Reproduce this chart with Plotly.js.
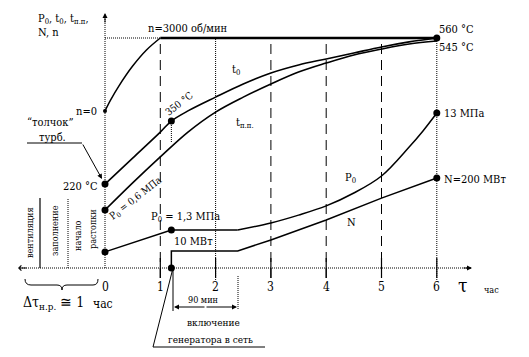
<!DOCTYPE html>
<html><head><meta charset="utf-8">
<script src="https://cdn.plot.ly/plotly-3.0.1.min.js"></script>
<style>html,body{margin:0;padding:0;background:#fff}#chart{width:529px;height:357px}
#chart svg text{font-family:"DejaVu Serif Condensed","DejaVu Serif",serif !important}</style>
</head><body><div id="chart"></div>
<script>
// ---- data (time in hours; values in relative units, 100 = nominal n line) ----
const tickTau = [0, 1, 2, 3, 4, 5, 6];
const tickLabels = ['0', '1', '2', '3', '4', '5', '6'];
const dashTau = [1, 3, 4, 5];
const dotTau = [2, 6];

const nTau = [0, 0.1, 0.25, 0.5, 0.75, 1.0];
const nVal = [68.3, 73.0, 79.1, 87.8, 94.8, 100];
const nFullTau = [1.0, 6];
const nFullVal = [100, 100];

const t0Tau = [0, 0.5, 1.0, 1.2, 1.5, 2, 2.5, 3, 3.5, 4, 4.5, 5, 5.5, 6];
const t0Val = [36.5, 47.8, 59.1, 63.9, 68.3, 74.3, 80.0, 84.8, 88.3, 90.9, 93.5, 96.1, 98.3, 100];

const tppTau = [0, 0.5, 1, 1.5, 2, 2.5, 3, 3.5, 4, 4.5, 5, 5.5, 6];
const tppVal = [25.2, 37.0, 48.3, 59.1, 67.8, 74.3, 80.0, 85.2, 89.1, 92.6, 95.2, 97.4, 98.7];

const p0StartTau = [0, 1.2, 2.4];
const p0StartVal = [7.0, 16.5, 16.5];
const p0RiseTau = [2.4, 3, 3.5, 4, 4.5, 5, 5.5, 5.75, 6];
const p0RiseVal = [16.5, 19.6, 23.0, 27.0, 32.6, 40.0, 52.6, 59.6, 67.4];

const powTau = [1.2, 1.2, 2.4, 3, 4, 5, 6];
const powVal = [0, 7.4, 7.4, 12.2, 20.9, 30.4, 39.1];

const syncTau = 1.2;

// ---- pixel helpers for layout (labels / decorations) ----
const X = px => (px - 105) / 55.3;
const Y = py => (268 - py) / 2.3;
const FONT = 'DejaVu Serif Condensed, DejaVu Serif';

const traces = [];
const blk = '#000';
function line(x, y, w, dash, shape) {
  traces.push({x, y, mode: 'lines', type: 'scatter', hoverinfo: 'skip',
    line: {color: blk, width: w, dash: dash || 'solid', shape: shape || 'linear', smoothing: 1}});
}
// vertical guides
dashTau.forEach(t => line([t, t], [Y(278), nFullVal[0]], 1, '10px,6px'));
dotTau.forEach(t => line([t, t], [Y(280), nFullVal[0]], 1, '1px,1px'));
line([syncTau, syncTau], [Y(123), Y(142)], 1, '1px,1px');
// axes
line([X(20), X(471)], [0, 0], 1, '1px,1px');
line([0, 0], [0, Y(16)], 1, '1px,1px');
line([X(40), X(40)], [0, Y(198)], 1.2);
line([X(68), X(68)], [0, Y(198)], 1, '1px,1px');
// ticks
tickTau.forEach(t => { if (t > 0) line([t, t], [Y(258), Y(278)], 1.2); });
// curves
line(nTau, nVal, 1.5, 'solid', 'spline');
line([0, nFullTau[0]], [nFullVal[0], nFullVal[0]], 1, '1px,1px');
line(nFullTau, nFullVal, 2.6);
line(t0Tau, t0Val, 1.6, 'solid', 'spline');
line(tppTau, tppVal, 1.6, 'solid', 'spline');
line(p0StartTau, p0StartVal, 1.5);
line(p0RiseTau, p0RiseVal, 1.5, 'solid', 'spline');
line(powTau, powVal, 1.5);
// dots
traces.push({type: 'scatter', mode: 'markers', hoverinfo: 'skip',
  x: [0, 0, 0, 1.2, 1.2, syncTau, 6, 6, 6],
  y: [t0Val[0], tppVal[0], p0StartVal[0], t0Val[3], p0StartVal[1], powVal[0], t0Val[t0Val.length - 1], p0RiseVal[p0RiseVal.length - 1], powVal[powVal.length - 1]],
  marker: {color: blk, size: 7}});
traces.push({type: 'scatter', mode: 'markers', hoverinfo: 'skip', x: [0], y: [nVal[0]],
  marker: {color: blk, size: 4}});

// ---- annotations ----
const sz = s => ({family: FONT, size: s, color: blk});
function A(text, px, py, o) {
  o = o || {};
  return Object.assign({text, x: X(px), y: Y(py), xref: 'x', yref: 'y', showarrow: false,
    xanchor: 'center', yanchor: 'middle', font: sz(11)}, o);
}
const ann = [
  A('P<sub>0</sub>, t<sub>0</sub>, t<sub>п.п</sub>,', 36, 19, {xanchor: 'left'}),
  A('N, n', 36, 32, {xanchor: 'left'}),
  A('n=0', 99, 111, {xanchor: 'right'}),
  A('n=3000 об/мин', 146, 28, {xanchor: 'left'}),
  A('“толчок”', 50, 122),
  A('турб.', 52, 137),
  A('220 °C', 100, 186, {xanchor: 'right'}),
  A('P<sub>0</sub> = 0,6 МПа', 136, 198, {textangle: -38, font: sz(10)}),
  A('350 °C', 179, 103, {textangle: -38, font: sz(10)}),
  A('t<sub>0</sub>', 236, 70),
  A('t<sub>п.п.</sub>', 245, 123),
  A('560 °C', 437, 29, {xanchor: 'left'}),
  A('545 °C', 437, 47, {xanchor: 'left'}),
  A('13 МПа', 442, 113, {xanchor: 'left'}),
  A('N=200 МВт', 442, 179, {xanchor: 'left'}),
  A('P<sub>0</sub>', 350, 178),
  A('N', 351, 222),
  A('P<sub>0</sub> = 1,3 МПа', 149, 217, {xanchor: 'left'}),
  A('10 МВт', 172, 241, {xanchor: 'left'}),
  A('90 мин', 203, 300, {font: sz(9)}),
  A('включение', 213, 322, {font: sz(10)}),
  A('генератора в сеть', 210, 339, {font: sz(10)}),
  A('τ', 462, 285, {font: sz(19)}),
  A('час', 482, 290, {xanchor: 'left', font: sz(9)}),
  A('Δτ<sub>н.р.</sub> ≅ 1', 21, 303, {xanchor: 'left', font: sz(14)}),
  A('час', 91, 304, {xanchor: 'left', font: sz(12)}),
  A('вентиляция', 30, 233, {textangle: -90, font: sz(9)}),
  A('заполнение', 55, 231, {textangle: -90, font: sz(9)}),
  A('начало', 78, 236, {textangle: -90, font: sz(9)}),
  A('растопки', 93, 229, {textangle: -90, font: sz(9)})
];
tickTau.forEach((t, i) => ann.push({text: tickLabels[i], x: t, y: Y(287), xref: 'x', yref: 'y',
  showarrow: false, font: sz(12)}));
// arrows
function arrow(hx, hy, tx, ty, head) {
  ann.push({text: '', x: X(hx), y: Y(hy), xref: 'x', yref: 'y', ax: tx - hx, ay: ty - hy,
    showarrow: true, arrowhead: head, arrowsize: 1, arrowwidth: 1, arrowcolor: blk});
}
arrow(472, 268, 462, 268, 2);
arrow(105, 13, 105, 24, 2);
arrow(18, 268, 28, 268, 4);
arrow(102, 179, 82, 143, 2);
arrow(174, 307, 206, 307, 2);
arrow(237, 307, 205, 307, 2);

// shapes (leaders, brace)
function seg(x0, y0, x1, y1, dash) {
  return {type: 'line', xref: 'x', yref: 'y', x0: X(x0), y0: Y(y0), x1: X(x1), y1: Y(y1),
    line: {color: blk, width: 1, dash: dash || 'solid'}};
}
const shapes = [
  seg(27, 143, 82, 143),
  seg(153, 347, 265, 347),
  seg(153, 347, 173, 268),
  seg(173, 268, 173, 311),
  seg(238, 276, 238, 310, '1px,1px')
];
const bp = [[25, 279], [25, 285], [31, 285], [57, 285], [62, 285], [62, 290], [62, 285], [67, 285], [93, 285], [98, 285], [98, 279]];
const P = p => X(p[0]) + ',' + Y(p[1]);
shapes.push({type: 'path', xref: 'x', yref: 'y', line: {color: blk, width: 1},
  path: 'M' + P(bp[0]) + ' Q' + P(bp[1]) + ' ' + P(bp[2]) + ' L' + P(bp[3]) + ' Q' + P(bp[4]) + ' ' + P(bp[5]) +
        ' Q' + P(bp[6]) + ' ' + P(bp[7]) + ' L' + P(bp[8]) + ' Q' + P(bp[9]) + ' ' + P(bp[10])});

const layout = {
  width: 529, height: 357, margin: {l: 0, r: 0, t: 0, b: 0},
  paper_bgcolor: '#fff', plot_bgcolor: '#fff', showlegend: false,
  font: {family: FONT, color: blk},
  xaxis: {range: [X(0), X(529)], visible: false, fixedrange: true},
  yaxis: {range: [Y(357), Y(0)], visible: false, fixedrange: true},
  annotations: ann, shapes: shapes
};
Plotly.newPlot('chart', traces, layout, {staticPlot: true});
</script></body></html>
